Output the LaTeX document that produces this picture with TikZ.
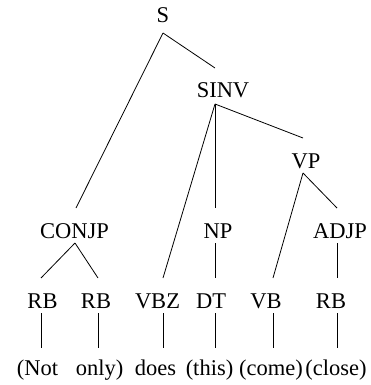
\documentclass[tikz,border=0pt]{standalone}
\usepackage{fontspec}
\newfontfamily\treefont{LiberationSerif-Regular.ttf}
\begin{document}
\begin{tikzpicture}[x=1pt,y=-1pt,
  lbl/.style={anchor=base,inner sep=0pt,font=\treefont\fontsize{22.5}{27}\selectfont},
  edge/.style={draw=black,line width=0.8pt}]
\useasboundingbox (0,0) rectangle (371,385);

% category labels
\node[lbl] (S)     at (163,23)  {S};
\node[lbl] (SINV)  at (223,98)  {SINV};
\node[lbl] (VP)    at (306,168) {VP};
\node[lbl] (CONJP) at (74.5,238) {CONJP};
\node[lbl] (NP)    at (218,238) {NP};
\node[lbl] (ADJP)  at (340,238) {ADJP};
\node[lbl] (RBa)   at (42.5,308) {RB};
\node[lbl] (RBb)   at (96,308)  {RB};
\node[lbl] (VBZ)   at (157.5,308) {VBZ};
\node[lbl] (DT)    at (211,308) {DT};
\node[lbl] (VB)    at (266,308) {VB};
\node[lbl] (RBc)   at (331,308) {RB};

% words
\node[lbl] (wNot)   at (37.5,375) {(Not};
\node[lbl] (wOnly)  at (99.5,375) {only)};
\node[lbl] (wDoes)  at (155.5,375) {does};
\node[lbl] (wThis)  at (209.5,375) {(this)};
\node[lbl] (wCome)  at (271,375) {(come)};
\node[lbl] (wClose) at (336,375) {(close)};

% branch points below and above each label
\coordinate (S-b)     at (163,33);
\coordinate (SINV-t)  at (215,68);
\coordinate (SINV-b)  at (215,104);
\coordinate (VP-t)    at (303,138);
\coordinate (VP-b)    at (303,173);
\coordinate (CONJP-t) at (76,208);
\coordinate (CONJP-b) at (75,243);
\coordinate (NP-t)    at (215,208);
\coordinate (NP-b)    at (215,243);
\coordinate (ADJP-t)  at (337,208);
\coordinate (ADJP-b)  at (337,243);
\coordinate (RBa-t)   at (41,278);
\coordinate (RBb-t)   at (98,278);
\coordinate (VBZ-t)   at (163,278);
\coordinate (DT-t)    at (215,278);
\coordinate (VB-t)    at (273,278);
\coordinate (RBc-t)   at (337,278);
\coordinate (RBa-b)   at (41,313);
\coordinate (RBb-b)   at (98,313);
\coordinate (VBZ-b)   at (163,313);
\coordinate (DT-b)    at (215,313);
\coordinate (VB-b)    at (273,313);
\coordinate (RBc-b)   at (337,313);
\coordinate (wNot-t)   at (41,348);
\coordinate (wOnly-t)  at (98,348);
\coordinate (wDoes-t)  at (163,348);
\coordinate (wThis-t)  at (215,348);
\coordinate (wCome-t)  at (273,348);
\coordinate (wClose-t) at (337,348);

% tree edges
\draw[edge] (S-b) -- (SINV-t);
\draw[edge] (S-b) -- (CONJP-t);
\draw[edge] (SINV-b) -- (VBZ-t);
\draw[edge] (SINV-b) -- (NP-t);
\draw[edge] (SINV-b) -- (VP-t);
\draw[edge] (VP-b) -- (VB-t);
\draw[edge] (VP-b) -- (ADJP-t);
\draw[edge] (CONJP-b) -- (RBa-t);
\draw[edge] (CONJP-b) -- (RBb-t);
\draw[edge] (NP-b) -- (DT-t);
\draw[edge] (ADJP-b) -- (RBc-t);
\draw[edge] (RBa-b) -- (wNot-t);
\draw[edge] (RBb-b) -- (wOnly-t);
\draw[edge] (VBZ-b) -- (wDoes-t);
\draw[edge] (DT-b) -- (wThis-t);
\draw[edge] (VB-b) -- (wCome-t);
\draw[edge] (RBc-b) -- (wClose-t);
\end{tikzpicture}
\end{document}
